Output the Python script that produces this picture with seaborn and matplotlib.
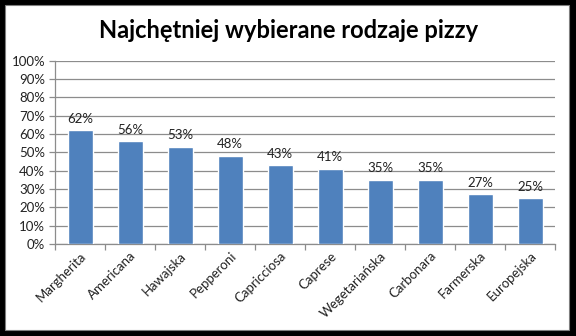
import matplotlib
matplotlib.use("Agg")
import matplotlib.pyplot as plt
from matplotlib.patches import Rectangle
from matplotlib.ticker import FixedLocator, PercentFormatter
import seaborn as sns
import pandas as pd

categories = ["Margherita", "Americana", "Hawajska", "Pepperoni", "Capricciosa",
              "Caprese", "Wegetariańska", "Carbonara", "Farmerska", "Europejska"]
shares = [62, 56, 53, 48, 43, 41, 35, 35, 27, 25]
title = "Najchętniej wybierane rodzaje pizzy"

sns.set_theme(style="white")
plt.rcParams["font.family"] = ["Lato", "DejaVu Sans"]

df = pd.DataFrame({"pizza": categories, "udzial": shares})

fig = plt.figure(figsize=(5.76, 3.36), dpi=100, facecolor="black")
# white chart area inside the dark frame
fig.patches.append(Rectangle((5 / 576, 6 / 336), 564 / 576, 325 / 336,
                             transform=fig.transFigure, facecolor="white",
                             edgecolor="#7f7f7f", linewidth=0.8, zorder=-5))

ax = fig.add_axes([55 / 576, (336 - 244) / 336, 500 / 576, 183.5 / 336])
ax.set_zorder(2)
ax.set_facecolor("white")

sns.barplot(data=df, x="pizza", y="udzial", color="#4F81BD", width=0.5,
            saturation=1, ax=ax, zorder=3)

ax.set_xlim(-0.5, len(categories) - 0.5)
ax.set_ylim(0, 100)
ax.set_yticks(range(0, 101, 10))
ax.yaxis.set_major_formatter(PercentFormatter(decimals=0))
ax.yaxis.grid(True, color="#8c8c8c", linewidth=0.9, zorder=0)
ax.set_axisbelow(True)
ax.set_xlabel("")
ax.set_ylabel("")

for side in ["top", "right"]:
    ax.spines[side].set_visible(False)
for side in ["left", "bottom"]:
    ax.spines[side].set_color("#8c8c8c")
    ax.spines[side].set_linewidth(0.9)

# category labels without tick marks; tick marks sit between categories
ax.tick_params(axis="x", which="major", length=0, pad=4)
ax.xaxis.set_minor_locator(FixedLocator([i - 0.5 for i in range(len(categories) + 1)]))
ax.tick_params(axis="x", which="minor", length=4, color="#8c8c8c", width=0.9,
               direction="out", bottom=True)
ax.tick_params(axis="y", length=4, color="#8c8c8c", width=0.9, direction="out",
               left=True, pad=3, labelsize=9.5, labelcolor="#222222")

plt.setp(ax.get_xticklabels(), rotation=45, ha="right", rotation_mode="anchor",
         fontsize=9.5, color="#222222")

for i, v in enumerate(shares):
    ax.annotate(f"{v}%", (i, v), xytext=(0, 4), textcoords="offset points",
                ha="center", va="bottom", fontsize=9.5, color="#222222")

fig.text(289 / 576, 1 - 31 / 336, title, ha="center", va="center",
         fontsize=17, fontweight="bold", color="black")

fig.savefig("out.png", dpi=100, facecolor=fig.get_facecolor())
